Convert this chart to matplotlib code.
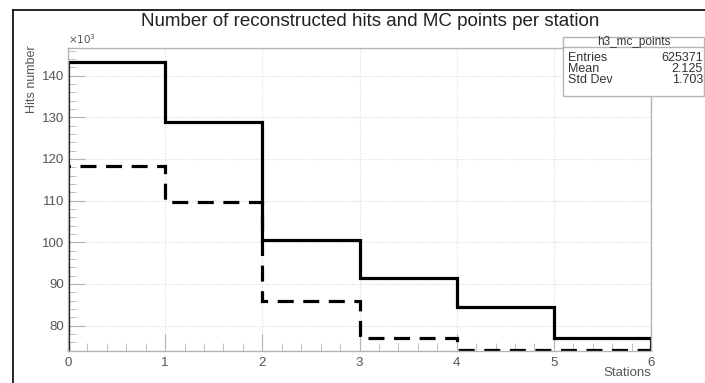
import numpy as np
import matplotlib.pyplot as plt
from matplotlib.patches import Rectangle
from matplotlib.lines import Line2D

plt.rcParams['font.family'] = ['Liberation Sans', 'DejaVu Sans']

# гистограммы по станциям (в тысячах)
edges = [0, 1, 2, 3, 4, 5, 6]
mc_points = [143.2, 128.8, 100.5, 91.5, 84.4, 77.1]
reco_hits = [118.4, 109.6, 85.8, 76.9, 74.1, 74.1]

stat_name = "h3_mc_points"
stat_rows = [("Entries", "625371"), ("Mean", "2.125"), ("Std Dev", "1.703")]

W, H = 705, 383
fig = plt.figure(figsize=(W / 100, H / 100), dpi=100)
ax = fig.add_axes([68 / W, 1 - 351 / H, (651 - 68) / W, (351 - 48) / H])

gray = '#b4b4b4'
tcol = '#555555'

ax.stairs(mc_points, edges, color='black', lw=2.3)
ax.stairs(reco_hits, edges, color='black', lw=2.3, ls=(0, (5, 3)))

ax.set_xlim(0, 6)
ax.set_ylim(73.9, 146.6)
ax.set_xticks(range(7))
ax.set_xticks(np.arange(0, 6.01, 0.2), minor=True)
ax.set_yticks(range(80, 141, 10))
ax.set_yticks(range(74, 147, 2), minor=True)
ax.grid(True, which='major', color='#e8e8e8', lw=0.8, ls=(0, (2, 1)))
ax.set_axisbelow(True)
for s in ax.spines.values():
    s.set_color(gray)
    s.set_linewidth(1.0)
ax.tick_params(which='both', direction='in', color=gray, labelcolor=tcol,
               labelsize=9.5)
ax.tick_params(which='major', length=12)
ax.tick_params(which='minor', length=6)
ax.tick_params(axis='x', pad=4)
ax.tick_params(axis='y', pad=3)

fig.text(651 / W, 1 - 373 / H, 'Stations', fontsize=9.5, color=tcol,
         ha='right', va='center')
fig.text(32 / W, 1 - 45 / H, 'Hits number', rotation=90, ha='center',
         va='top', fontsize=9, color=tcol)
fig.text(68 / W, 1 - 46 / H, r'$\times10^{3}$', fontsize=7.5, color=tcol,
         ha='left', va='bottom')

fig.text(370 / W, 1 - 21 / H,
         'Number of reconstructed hits and MC points per station',
         ha='center', va='center', fontsize=13.5, color='#222222')

# рамка канваса
fig.add_artist(Line2D([13 / W, 13 / W], [0, 1 - 10 / H], color='black', lw=1.2))
fig.add_artist(Line2D([13 / W, 1], [1 - 10 / H, 1 - 10 / H], color='black', lw=1.2))

# окно статистики
bx0, bx1, by0, by1 = 563, 704, 37, 96
fig.add_artist(Rectangle((bx0 / W, 1 - by1 / H), (bx1 - bx0) / W, (by1 - by0) / H,
                         facecolor='white', edgecolor=gray, lw=1.0))
fig.add_artist(Line2D([bx0 / W, bx1 / W], [1 - 47 / H, 1 - 47 / H], color=gray, lw=1.0))
fig.text((bx0 + bx1) / 2 / W, 1 - 42 / H, stat_name, ha='center', va='center',
         fontsize=8.5, color='#333333')
for i, (k, v) in enumerate(stat_rows):
    y = 1 - (58 + 11 * i) / H
    fig.text(568 / W, y, k, ha='left', va='center', fontsize=9, color='#333333')
    fig.text(703 / W, y, v, ha='right', va='center', fontsize=9, color='#333333')

fig.savefig('out.png', dpi=100)
